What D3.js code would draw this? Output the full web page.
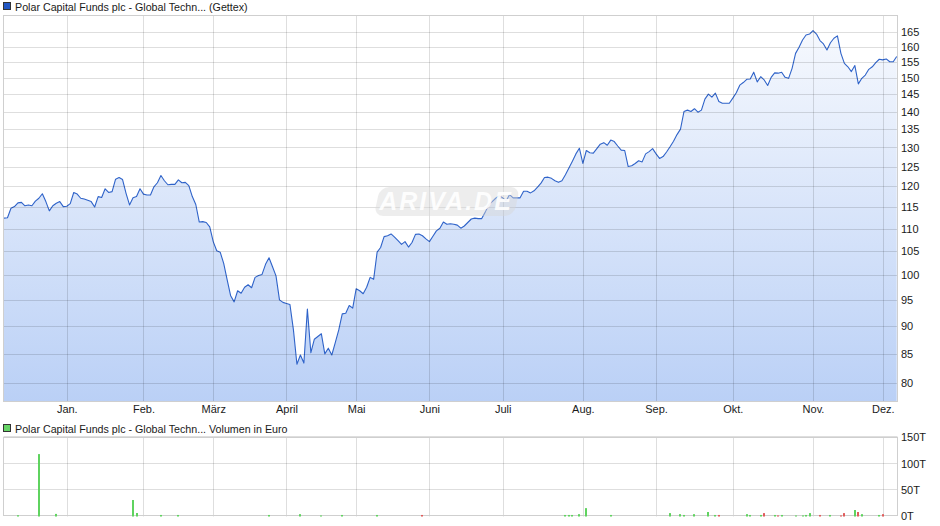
<!DOCTYPE html>
<html><head><meta charset="utf-8">
<script src="https://cdn.jsdelivr.net/npm/d3@7"></script>
<style>
body{margin:0;background:#fff}
svg{display:block}
text{font-family:"Liberation Sans",Arial,sans-serif;font-size:11px;fill:#1a1a1a}
.leg{font-size:10.7px}
</style>
</head><body>
<svg id="c" width="940" height="526"></svg>
<script>
const seriesName = "Polar Capital Funds plc - Global Techn... (Gettex)";
const volumeName = "Polar Capital Funds plc - Global Techn... Volumen in Euro";

// daily closes (trading-day index 0 = early Dec 2024)
const priceValues = [
112.4,112.5,114.7,115.1,116.0,116.1,115.3,115.5,115.3,116.4,
117.1,118.2,116.3,114.1,115.3,115.9,116.3,115.1,115.2,115.8,
118.5,118.1,117.1,116.9,116.6,116.3,115.0,117.5,117.3,119.4,
118.5,118.7,121.8,122.2,121.7,118.3,115.5,117.2,117.5,119.4,
118.1,117.9,117.9,119.9,120.9,122.7,121.4,120.4,120.5,120.5,
121.6,120.9,121.0,120.2,117.5,115.6,111.5,111.6,111.4,110.4,
107.1,105.1,104.8,102.4,99.0,95.8,94.6,96.8,96.3,97.5,
98.0,97.4,99.5,99.9,100.1,102.2,103.6,101.7,99.8,95.0,
94.5,94.3,94.1,89.3,83.2,84.8,83.4,93.2,85.2,87.6,
88.1,88.6,85.0,86.0,84.8,87.0,89.3,92.3,92.4,93.9,
93.4,97.2,96.8,96.2,97.5,99.5,99.1,104.8,105.8,108.2,
108.4,108.8,108.1,107.3,106.5,107.1,105.9,106.9,108.7,108.8,
108.4,107.7,107.1,108.3,109.5,110.1,111.5,111.0,111.1,111.0,
110.8,110.1,110.6,111.4,112.2,112.4,112.3,112.3,113.8,115.5,
116.3,117.1,117.7,117.2,116.5,118.0,117.2,117.2,117.2,118.8,
118.8,118.4,118.9,119.8,120.8,122.2,122.3,122.0,121.4,121.0,
121.4,122.9,124.6,126.4,128.3,129.8,125.8,129.2,128.6,128.5,
129.7,130.9,131.3,130.6,132.0,131.6,130.4,129.3,129.2,125.0,
125.2,125.8,126.5,126.2,128.3,128.9,129.7,128.3,127.1,127.6,
128.8,130.2,131.7,133.5,135.0,140.0,140.4,140.0,140.8,139.8,
140.4,143.6,145.1,144.2,145.4,142.9,142.4,142.4,142.4,143.9,
145.5,147.8,148.6,149.6,149.7,151.8,148.8,150.4,149.4,147.7,
150.2,151.6,151.5,151.8,150.2,149.9,153.0,157.8,159.8,162.2,
163.9,164.2,165.4,164.2,162.0,160.9,158.9,161.3,162.8,163.6,
157.8,154.6,153.5,152.0,153.9,148.2,149.9,150.9,152.7,153.5,
154.8,155.9,155.7,156.0,155.1,155.1,156.8
];

const monthLabels = ["Jan.","Feb.","März","April","Mai","Juni","Juli","Aug.","Sep.","Okt.","Nov.","Dez."];
const monthStartIdx = [18,40,60,81,101,122,143,166,187,209,232,252];
const priceTicks = [80,85,90,95,100,105,110,115,120,125,130,135,140,145,150,155,160,165];

const volumeDays = [4,10,15,37,38,45,50,76,85,91,97,107,120,161,162,163,165,167,174,191,194,195,198,202,204,205,213,214,217,218,221,222,223,227,229,230,231,234,237,240,241,244,245,246,251,252];
const volumeValues = [1.5,118,4,30.5,5.7,2,2,2,3.5,1,2,2,2,2,2,2,3.5,15,2,5.5,3.5,2,3.5,7.6,2,2,3.5,2,2,5.5,2,1,2,1,1,2,5.5,2,2,1,5.5,11.4,7.6,3.5,2,3.5];
const volumeTicks = [0,50,100,150];
const volumeTickLabels = ["0T","50T","100T","150T"];

const svg = d3.select("#c");
const L = 3.5, R = 897.5, T = 15.5, B = 401.5;
const VT = 437.5, VB = 516.5;

const x = d3.scaleLinear().domain([0, priceValues.length - 1]).range([4, 896.7]);
const y = d3.scaleLog().domain([80, 165]).range([383.3, 31.7]);
const yv = d3.scaleLinear().domain([0, 150]).range([516, 437.3]);
const snap = v => Math.round(v) + 0.5;

// gradient
const defs = svg.append("defs");
const grad = defs.append("linearGradient").attr("id","fillGrad")
  .attr("gradientUnits","userSpaceOnUse").attr("x1",0).attr("y1",T).attr("x2",0).attr("y2",B);
grad.append("stop").attr("offset","0").attr("stop-color","#f8fafe");
grad.append("stop").attr("offset","1").attr("stop-color","#bad0f6");
defs.append("clipPath").attr("id","plotClip").append("rect")
  .attr("x",L).attr("y",T).attr("width",R-L).attr("height",B-T);

// legend top
svg.append("rect").attr("x",3.5).attr("y",2.5).attr("width",7).attr("height",7)
  .attr("fill","#2257c4").attr("stroke","#333").attr("stroke-width",1);
svg.append("text").attr("class","leg").attr("x",15).attr("y",11).text(seriesName);

// area + line
const idx = d3.range(priceValues.length);
const area = d3.area().x(i => x(i)).y0(B).y1(i => y(priceValues[i]));
const line = d3.line().x(i => x(i)).y(i => y(priceValues[i]));
const gp = svg.append("g").attr("clip-path","url(#plotClip)");
gp.append("path").datum(idx).attr("d",area).attr("fill","url(#fillGrad)");

// grid main
const grid = svg.append("g").attr("stroke","#000").attr("stroke-opacity",0.13).attr("stroke-width",1);
priceTicks.forEach(v => grid.append("line").attr("x1",L).attr("x2",R).attr("y1",snap(y(v))).attr("y2",snap(y(v))));
monthStartIdx.forEach(i => grid.append("line").attr("x1",snap(x(i))).attr("x2",snap(x(i))).attr("y1",T).attr("y2",B));

// watermark
const wm = svg.append("g").attr("transform","translate(380,187)");
wm.append("rect").attr("x",0).attr("y",0).attr("width",140).attr("height",29).attr("rx",9)
  .attr("transform","skewX(-12)").attr("fill","#d6d6d6").attr("opacity",0.45);
wm.append("text").attr("x",66).attr("y",23).attr("text-anchor","middle")
  .style("font-size","25px").style("font-style","italic").style("font-weight","bold")
  .style("letter-spacing","2px").style("fill","#ffffff").attr("opacity",0.9).text("ARIVA.DE");

gp.append("path").datum(idx).attr("d",line).attr("fill","none")
  .attr("stroke","#2f63c9").attr("stroke-width",1.1).attr("stroke-linejoin","round");

// frame main
svg.append("rect").attr("x",L).attr("y",T).attr("width",R-L).attr("height",B-T)
  .attr("fill","none").attr("stroke","#cfcfcf");

// y axis
const ya = svg.append("g").attr("transform",`translate(${R},0)`)
  .call(d3.axisRight(y).tickValues(priceTicks).tickSize(0).tickPadding(3.5).tickFormat(d3.format("d")));
ya.select(".domain").remove();
ya.attr("font-family",null).attr("font-size",null);

// x axis (month labels)
const xa = svg.append("g").attr("transform",`translate(0,${B+1})`)
  .call(d3.axisBottom(x).tickValues(monthStartIdx).tickSize(0).tickPadding(3).tickFormat((d,i)=>monthLabels[i]));
xa.select(".domain").remove();
xa.attr("font-family",null).attr("font-size",null);

// volume legend
svg.append("rect").attr("x",3.5).attr("y",424.5).attr("width",7).attr("height",7)
  .attr("fill","#66d466").attr("stroke","#333");
svg.append("text").attr("class","leg").attr("x",15).attr("y",433).text(volumeName);

// volume grid
const vg = svg.append("g").attr("stroke","#000").attr("stroke-opacity",0.13);
volumeTicks.forEach(v => vg.append("line").attr("x1",L).attr("x2",R).attr("y1",snap(yv(v))-1).attr("y2",snap(yv(v))-1));
monthStartIdx.forEach(i => vg.append("line").attr("x1",snap(x(i))).attr("x2",snap(x(i))).attr("y1",VT).attr("y2",VB));

// volume frame
svg.append("rect").attr("x",L).attr("y",VT).attr("width",R-L).attr("height",VB-VT-1)
  .attr("fill","none").attr("stroke","#cfcfcf");

// volume bars
svg.append("g").selectAll("rect").data(volumeDays).join("rect")
  .attr("x", d => Math.round(x(d)) - 1)
  .attr("width", 2)
  .attr("y", (d,k) => yv(volumeValues[k]))
  .attr("height", (d,k) => yv(0) - yv(volumeValues[k]) + 0.5)
  .attr("fill", d => priceValues[d] < priceValues[d-1] ? "#e05c5c" : "#5fd35f");

// volume axis
const va = svg.append("g").attr("transform",`translate(${R},0)`)
  .call(d3.axisRight(yv).tickValues(volumeTicks).tickSize(0).tickPadding(3.5).tickFormat((d,i)=>volumeTickLabels[i]));
va.select(".domain").remove();
va.attr("font-family",null).attr("font-size",null);
</script>
</body></html>
